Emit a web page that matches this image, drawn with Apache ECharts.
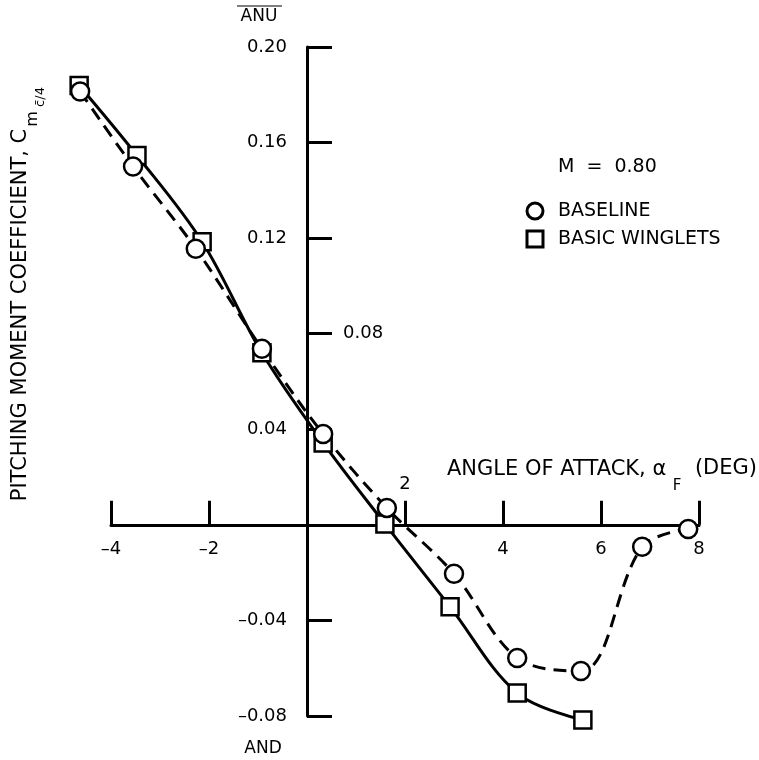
<!DOCTYPE html>
<html><head><meta charset="utf-8">
<script src="https://cdn.jsdelivr.net/npm/echarts@6/dist/echarts.min.js"></script>
<style>html,body{margin:0;background:#fff}#c{width:759px;height:760px}</style>
</head><body><div id="c"></div>
<script>
// Angle of attack (deg) and pitching moment coefficient
const baselineAlpha = [-4.63, -3.55, -2.27, -0.92, 0.33, 1.63, 3.00, 4.29, 5.59, 6.84, 7.78];
const baselineCm    = [0.1814, 0.150, 0.1156, 0.0737, 0.038, 0.0071, -0.0205, -0.0557, -0.0612, -0.0092, -0.0017];
const wingletAlpha  = [-4.65, -3.47, -2.14, -0.92, 0.33, 1.59, 2.92, 4.29, 5.63];
const wingletCm     = [0.1839, 0.1546, 0.1185, 0.072, 0.0343, 0.0004, -0.0343, -0.0704, -0.0817];
const xTickLabels = {'-4': '\u20134', '-2': '\u20132', '4': '4', '6': '6', '8': '8'};
const yTickLabels = {'0.2': '0.20', '0.16': '0.16', '0.12': '0.12', '0.04': '0.04', '-0.04': '\u20130.04', '-0.08': '\u20130.08'};

const FONT = 'DejaVu Sans';
const zip = (a, b) => a.map((v, i) => [v, b[i]]);
const chart = echarts.init(document.getElementById('c'), null, {renderer: 'canvas'});

// layout: x axis drawn from -4 to 8, y axis from -0.08 to 0.20
const W = 759, H = 760;
const axL = 111, axR = 699, axT = 47, axB = 716;
const pxX = (axR - axL) / 12;          // px per degree
const pxY = (axB - axT) / 0.28;        // px per unit Cm
const x0 = axL + 4 * pxX;              // pixel of alpha = 0
const y0 = axT + 0.20 * pxY;           // pixel of Cm = 0

const hidden = {show: false};
const option = {
  backgroundColor: '#fff',
  animation: false,
  grid: [
    // 0: x axis grid
    {left: axL, right: W - axR, top: axT, bottom: H - y0},
    // 1: y axis grid
    {left: x0, right: W - x0 - 60, top: axT, bottom: H - axB},
    // 2: series grid (wider range, same scale)
    {left: axL - pxX, right: W - axR - pxX, top: axT, bottom: H - axT - 0.29 * pxY}
  ],
  xAxis: [
    {gridIndex: 0, type: 'value', min: -4, max: 8, interval: 2, position: 'bottom',
     axisLine: {onZero: false, lineStyle: {color: '#000', width: 3}},
     axisTick: {inside: true, length: 24, lineStyle: {color: '#000', width: 3}},
     axisLabel: {margin: 15, fontSize: 18, fontFamily: FONT, color: '#000',
       formatter: v => xTickLabels[String(Math.round(v))] || ''},
     splitLine: hidden},
    {gridIndex: 1, type: 'value', min: 0, max: 1, show: false},
    {gridIndex: 2, type: 'value', min: -5, max: 9, show: false}
  ],
  yAxis: [
    {gridIndex: 0, type: 'value', min: 0, max: 1, show: false},
    {gridIndex: 1, type: 'value', min: -0.08, max: 0.20, interval: 0.04, position: 'left',
     axisLine: {onZero: false, lineStyle: {color: '#000', width: 3}},
     axisTick: {inside: true, length: 25, lineStyle: {color: '#000', width: 3}},
     axisLabel: {margin: 20, fontSize: 18, fontFamily: FONT, color: '#000',
       formatter: v => yTickLabels[String(Math.round(v * 100) / 100)] || ''},
     splitLine: hidden},
    {gridIndex: 2, type: 'value', min: -0.09, max: 0.20, show: false}
  ],
  series: [
    {type: 'line', xAxisIndex: 2, yAxisIndex: 2, data: zip(wingletAlpha, wingletCm), smooth: 0.35,
     showSymbol: false, clip: false, lineStyle: {color: '#000', width: 3}, z: 2},
    {type: 'line', xAxisIndex: 2, yAxisIndex: 2, data: zip(baselineAlpha, baselineCm), smooth: 0.35,
     showSymbol: false, clip: false, lineStyle: {color: '#000', width: 3, type: [13, 8]}, z: 2},
    {type: 'scatter', xAxisIndex: 2, yAxisIndex: 2, data: zip(wingletAlpha, wingletCm), symbol: 'rect',
     symbolSize: 17, clip: false, itemStyle: {color: '#fff', borderColor: '#000', borderWidth: 2.5, opacity: 1}, z: 3},
    {type: 'scatter', xAxisIndex: 2, yAxisIndex: 2, data: zip(baselineAlpha, baselineCm), symbol: 'circle',
     symbolSize: 18, clip: false, itemStyle: {color: '#fff', borderColor: '#000', borderWidth: 2.5, opacity: 1}, z: 4}
  ]
};
chart.setOption(option);

const p2 = chart.convertToPixel({xAxisIndex: 0}, 2);
const p08 = chart.convertToPixel({yAxisIndex: 1}, 0.08);
const txt = (x, y, text, size, align, extra) => Object.assign({
  type: 'text', x: x, y: y, z: 10,
  style: {text: text, font: size + 'px "' + FONT + '"', fill: '#000', textAlign: align || 'left', textVerticalAlign: 'middle'}
}, extra || {});

chart.setOption({
  graphic: [
    txt(p2, y0 - 41, '2', 18, 'center'),
    txt(x0 + 36, p08, '0.08', 18, 'left'),
    // x axis title
    txt(447, 470, 'ANGLE OF ATTACK, \u03b1', 21, 'left'),
    txt(677, 486, 'F', 15, 'center'),
    txt(757, 469, '(DEG)', 21, 'right'),
    // y axis title (rotated)
    txt(21, 315, 'PITCHING MOMENT COEFFICIENT, C', 21, 'center', {rotation: Math.PI / 2}),
    txt(33, 119, 'm', 16, 'center', {rotation: Math.PI / 2}),
    txt(41, 97, 'c\u0304/4', 13, 'center', {rotation: Math.PI / 2}),
    // ANU / AND
    txt(259, 17, 'ANU', 17, 'center'),
    {type: 'line', z: 10, shape: {x1: 237, y1: 6, x2: 282, y2: 6}, style: {stroke: '#000', lineWidth: 1.2}},
    txt(263, 749, 'AND', 17, 'center'),
    // legend
    txt(558, 167, 'M  =  0.80', 19, 'left'),
    {type: 'circle', z: 10, shape: {cx: 535, cy: 211, r: 8}, style: {fill: '#fff', stroke: '#000', lineWidth: 3}},
    txt(558, 211, 'BASELINE', 19, 'left'),
    {type: 'rect', z: 10, shape: {x: 527, y: 231, width: 16, height: 16}, style: {fill: '#fff', stroke: '#000', lineWidth: 3}},
    txt(558, 239, 'BASIC WINGLETS', 19, 'left')
  ]
});
</script></body></html>
